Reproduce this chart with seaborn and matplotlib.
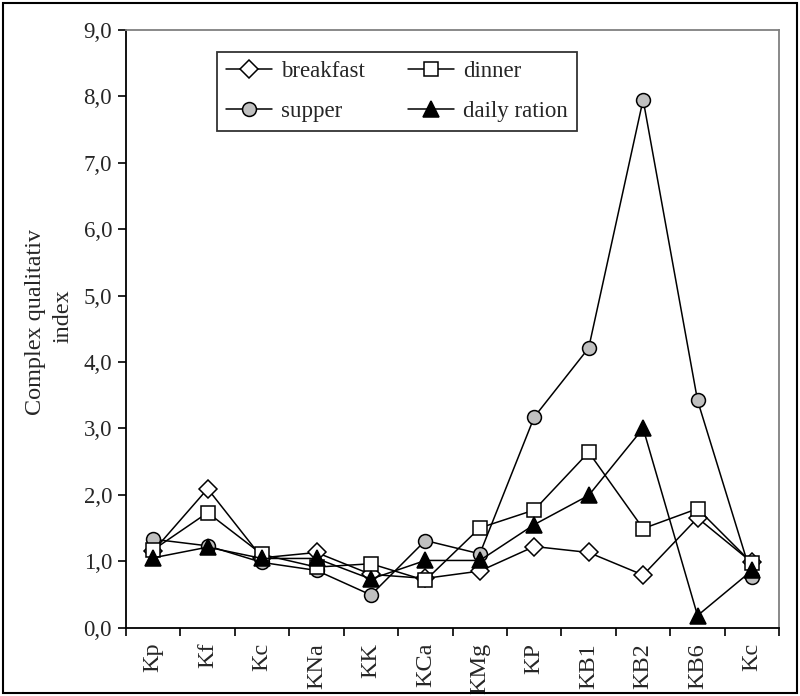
import numpy as np
import pandas as pd
import matplotlib
matplotlib.use('Agg')
import matplotlib.pyplot as plt
import seaborn as sns
from matplotlib import font_manager
from matplotlib.patches import Rectangle
from matplotlib.transforms import Bbox

sns.set_theme()
sns.set_style('white')

# find a Times-like serif font
serif = 'DejaVu Serif'
for f in font_manager.findSystemFonts():
    if 'LiberationSerif-Regular' in f:
        font_manager.fontManager.addfont(f)
        serif = font_manager.FontProperties(fname=f).get_name()
        break
plt.rcParams['font.family'] = [serif, 'DejaVu Serif']

categories = ['Kp', 'Kf', 'Kc', 'KNa', 'KK', 'KCa', 'KMg', 'KP', 'KB1', 'KB2', 'KB6', 'Kc']
breakfast = [1.15, 2.09, 1.05, 1.13, 0.80, 0.74, 0.85, 1.22, 1.13, 0.79, 1.65, 0.98]
dinner = [1.17, 1.73, 1.10, 0.91, 0.96, 0.71, 1.50, 1.77, 2.64, 1.49, 1.79, 0.97]
supper = [1.33, 1.23, 0.98, 0.86, 0.49, 1.31, 1.11, 3.17, 4.21, 7.95, 3.42, 0.76]
daily = [1.05, 1.21, 1.04, 1.04, 0.73, 1.01, 1.01, 1.55, 1.99, 3.00, 0.18, 0.86]
yticks = [0, 1, 2, 3, 4, 5, 6, 7, 8, 9]

pos = np.arange(len(categories))
df = pd.DataFrame({'pos': pos, 'breakfast': breakfast, 'dinner': dinner,
                   'supper': supper, 'daily ration': daily})

fig = plt.figure(figsize=(8, 6.96), dpi=100)
ax = fig.add_axes([0.1575, 0.0984, 0.8165, 0.8586])

styles = {
    'breakfast': dict(marker='D', markersize=9, markerfacecolor='white'),
    'supper': dict(marker='o', markersize=10, markerfacecolor='#c0c0c0'),
    'dinner': dict(marker='s', markersize=10, markerfacecolor='white'),
    'daily ration': dict(marker='^', markersize=11.5, markerfacecolor='black'),
}
for name in ['breakfast', 'supper', 'dinner', 'daily ration']:
    sns.lineplot(data=df, x='pos', y=name, ax=ax, color='black', linewidth=1.1,
                 markeredgecolor='black', markeredgewidth=1.1, label=name,
                 sort=False, **styles[name])

ax.set_xlim(-0.5, 11.5)
ax.set_ylim(0, 9)
ax.set_yticks(yticks)
ax.set_yticklabels([f'{v},0' for v in yticks], fontsize=16.5)
ax.set_xticks(pos)
ax.set_xticklabels(categories, rotation=90, fontsize=17.5)
ax.set_xticks(np.arange(-0.5, 12, 1), minor=True)
ax.tick_params(axis='x', which='major', length=0, pad=11)
ax.tick_params(axis='x', which='minor', length=6, width=1.2, color='black', direction='out', bottom=True)
ax.tick_params(axis='y', which='major', length=6, width=1.2, color='black', direction='out', left=True, pad=4)
ax.set_xlabel('')

for s in ['left', 'bottom']:
    ax.spines[s].set_color('black')
    ax.spines[s].set_linewidth(1.3)
for s in ['top', 'right']:
    ax.spines[s].set_color('#808080')
    ax.spines[s].set_linewidth(1.3)

yl = ax.set_ylabel('Complex qualitative\nindex', fontsize=17.4, linespacing=1.35)
ax.yaxis.set_label_coords(-0.081, 0.5205)
yl.set_clip_on(True)
yl.set_clip_box(Bbox.from_extents(0, 0, 800, 696 - 229))

leg = ax.legend(loc='upper left', bbox_to_anchor=(0.139, 0.963), ncol=2, fontsize=16.5,
                frameon=True, fancybox=False, edgecolor='black', handlelength=2.0,
                handletextpad=0.4, columnspacing=1.9, labelspacing=0.8, borderpad=0.4,
                borderaxespad=0)
leg.get_frame().set_linewidth(1.3)

fig.patches.append(Rectangle((0.004, 0.004), 0.992, 0.992, transform=fig.transFigure,
                             fill=False, edgecolor='black', linewidth=1.5))

fig.savefig('out.png', dpi=100)
